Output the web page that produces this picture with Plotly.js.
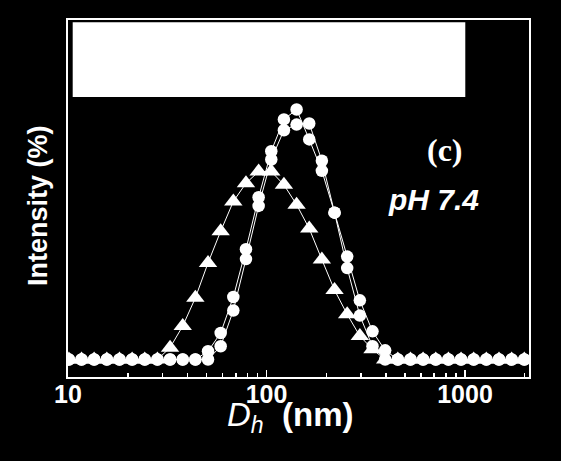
<!DOCTYPE html>
<html>
<head>
<meta charset="utf-8">
<script src="https://cdn.plot.ly/plotly-3.0.1.min.js"></script>
<style>
  html, body { margin: 0; padding: 0; background: #000; }
  #chart { width: 561px; height: 461px; }
</style>
</head>
<body>
<div id="chart"></div>
<script>
// hydrodynamic diameter bins (nm), log spaced
const sizes = [10.1, 11.7, 13.54, 15.69, 18.17, 21.04, 24.36, 28.21, 32.67, 37.84,
  43.82, 50.75, 58.77, 68.06, 78.82, 91.28, 105.7, 122.4, 141.8, 164.2,
  190.1, 220.2, 255.0, 295.3, 342.0, 396.1, 458.7, 531.2, 615.1, 712.4,
  825.0, 955.4, 1106, 1281, 1484, 1718, 1990];

// intensity (%)
const circlesA = [0, 0, 0, 0, 0, 0, 0, 0, 0, 0,
  0, 0.47, 1.50, 3.53, 6.23, 9.16, 11.76, 13.55, 14.11, 12.42,
  10.65, 8.29, 5.16, 2.48, 0.75, 0, 0, 0, 0, 0,
  0, 0, 0, 0, 0, 0, 0];
const circlesB = [0, 0, 0, 0, 0, 0, 0, 0, 0, 0,
  0, 0, 0.75, 2.77, 5.67, 8.67, 11.29, 12.94, 13.26, 13.32,
  11.22, 8.29, 5.81, 3.34, 1.59, 0.52, 0, 0, 0, 0,
  0, 0, 0, 0, 0, 0, 0];
const triangles = [0, 0, 0, 0, 0, 0, 0, 0, 0.67, 1.89,
  3.48, 5.45, 7.24, 8.92, 9.95, 10.61, 10.61, 9.86, 8.74, 7.39,
  5.64, 3.92, 2.55, 1.33, 0.58, 0, 0, 0, 0, 0,
  0, 0, 0, 0, 0, 0, 0];

const majorTicks = [10, 100, 1000];
const majorLabels = ["10", "100", "1000"];
const minorTicks = [20, 30, 40, 50, 60, 70, 80, 90,
  200, 300, 400, 500, 600, 700, 800, 900, 2000];

function series(y, symbol, size) {
  return {
    x: sizes,
    y: y,
    type: "scatter",
    mode: "lines+markers",
    line: { color: "white", width: 1 },
    marker: { symbol: symbol, size: size, color: "white", line: { width: 0 } },
    hoverinfo: "x+y"
  };
}

const traces = [
  series(circlesA, "circle", 12.5),
  series(circlesB, "circle", 12.5),
  series(triangles, "triangle-up", 16)
];

const layout = {
  width: 561,
  height: 461,
  paper_bgcolor: "black",
  plot_bgcolor: "black",
  showlegend: false,
  margin: { l: 68, r: 31.5, t: 19.5, b: 83.5 },
  font: { family: "Liberation Sans, Arial, sans-serif", color: "white" },
  xaxis: {
    type: "log",
    range: [1, 3.3225],
    tickmode: "array",
    tickvals: majorTicks,
    ticktext: majorLabels,
    ticks: "inside",
    ticklen: 7,
    tickwidth: 1.5,
    tickcolor: "white",
    ticklabelstandoff: -6,
    minor: { tickmode: "array", tickvals: minorTicks, ticks: "inside", ticklen: 4, tickwidth: 1.5, tickcolor: "white", showgrid: false },
    tickfont: { family: "Liberation Sans, Arial", size: 25, color: "white", weight: "bold" },
    showline: true,
    linecolor: "white",
    linewidth: 2,
    mirror: true,
    showgrid: false,
    zeroline: false
  },
  yaxis: {
    range: [-0.985, 19.16],
    showticklabels: false,
    ticks: "",
    showline: true,
    linecolor: "white",
    linewidth: 2,
    mirror: true,
    showgrid: false,
    zeroline: false
  },
  shapes: [{
    type: "rect", xref: "paper", yref: "paper",
    x0: 0.0102, x1: 0.8618, y0: 0.7844, y1: 0.9939,
    fillcolor: "white", line: { width: 0 }, layer: "above"
  }],
  annotations: [
    {
      text: "<i>D</i><sub><i>h</i></sub>  <b>(nm)</b>",
      xref: "paper", yref: "paper", x: 0.482, y: -0.113,
      xanchor: "center", yanchor: "middle", showarrow: false,
      font: { family: "Liberation Sans, Arial", size: 33, color: "white" }
    },
    {
      text: "<b>Intensity (%)</b>",
      xref: "paper", yref: "paper", x: -0.065, y: 0.479,
      textangle: -90, xanchor: "center", yanchor: "middle", showarrow: false,
      font: { family: "Liberation Sans, Arial", size: 27, color: "white" }
    },
    {
      text: "<b>(c)</b>",
      xref: "paper", yref: "paper", x: 0.817, y: 0.6355,
      xanchor: "center", yanchor: "middle", showarrow: false,
      font: { family: "Liberation Serif, Times New Roman, serif", size: 32, color: "white" }
    },
    {
      text: "<b><i>pH 7.4</i></b>",
      xref: "paper", yref: "paper", x: 0.793, y: 0.4958,
      xanchor: "center", yanchor: "middle", showarrow: false,
      font: { family: "Liberation Sans, Arial", size: 30, color: "white" }
    }
  ]
};

Plotly.newPlot("chart", traces, layout, { displayModeBar: false, staticPlot: true });
</script>
</body>
</html>
